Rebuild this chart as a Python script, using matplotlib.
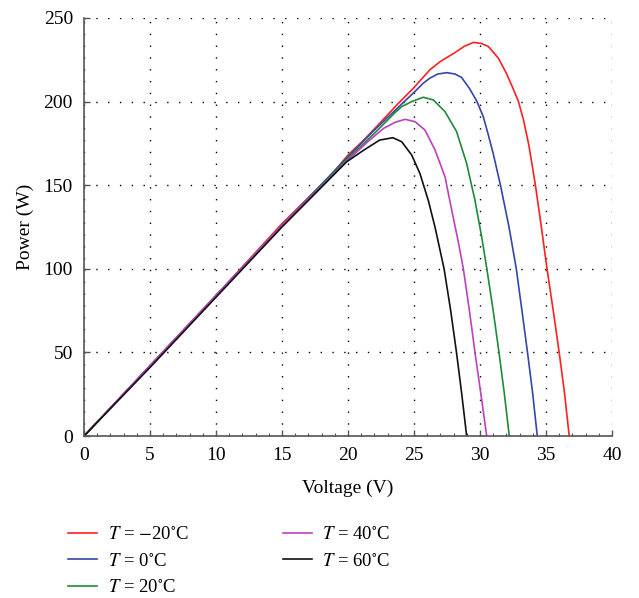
import matplotlib
matplotlib.use("Agg")
import matplotlib.pyplot as plt
from matplotlib.ticker import MultipleLocator

plt.rcParams['font.family'] = ['Liberation Serif', 'DejaVu Serif']
plt.rcParams['mathtext.fontset'] = 'stix'

# P-V curves, one per temperature
v_m20 = [0, 5, 10, 15, 18.6, 20, 21.2, 22.4, 23.7, 24.95, 26.2, 27.0, 28.1, 28.8,
         29.5, 30.1, 30.64, 31.4, 32.0, 32.5, 32.9, 33.3, 33.7, 34.2, 34.65, 35.08,
         35.55, 36.0, 36.4, 36.76]
p_m20 = [0, 42, 84, 127, 155, 168, 177, 187, 198, 208, 219, 224, 229.3, 233,
         235.4, 234.8, 232.9, 225.9, 216.9, 207.9, 200.4, 189, 174, 150, 125, 100,
         75, 50, 26, 0]

v_0 = [0, 5, 10, 15, 20, 22, 24, 25, 25.7, 26.2, 26.8, 27.5, 28.1, 28.6, 29.2,
       29.75, 30.25, 30.6, 31.0, 31.55, 32.2, 32.75, 33.18, 33.6, 34.0, 34.34]
p_0 = [0, 42, 84, 126, 167, 183, 198, 205.5, 211, 214, 216.5, 217.3, 216.5, 214.5, 207.9,
       200.4, 191, 181, 169, 150, 125, 100, 75, 50, 25, 0]

v_20 = [0, 5, 10, 15, 20, 22, 23.56, 24.07, 24.83, 25.7, 26.46, 27.35, 28.23, 28.99,
        29.62, 30.13, 30.5, 31.0, 31.44, 31.85, 32.22]
p_20 = [0, 42, 84, 126, 166, 181, 193.4, 197, 200, 202.6, 201, 194, 182, 163,
        141, 119, 101, 75, 50, 25, 0]

v_40 = [0, 5, 10, 15, 20, 21.5, 22.7, 23.56, 24.32, 25.08, 25.83, 26.6, 27.35, 27.86,
        28.36, 28.74, 29.2, 29.62, 30.07, 30.51]
p_40 = [0, 42, 84, 126, 165, 176, 184, 187.6, 189.4, 188, 183, 171, 155, 135,
        116, 100, 75, 50, 25, 0]

v_60 = [0, 5, 10, 15, 19.9, 21.2, 22.4, 23.4, 24.07, 24.83, 25.45, 26.08, 26.59,
        27.28, 27.78, 28.22, 28.62, 28.99]
p_60 = [0, 41, 83, 125, 164, 171, 177, 178.4, 176, 168, 157, 141, 125,
        100, 75, 50, 25, 0]

series = [
    (v_m20, p_m20, '#ff2020', r'$T$ = $-$20$^{\circ}$C'),
    (v_0, p_0, '#3347a8', r'$T$ = 0$^{\circ}$C'),
    (v_20, p_20, '#1e8a3c', r'$T$ = 20$^{\circ}$C'),
    (v_40, p_40, '#c03fc0', r'$T$ = 40$^{\circ}$C'),
    (v_60, p_60, '#111111', r'$T$ = 60$^{\circ}$C'),
]

fig = plt.figure(figsize=(6.39, 5.98), dpi=100)
ax = fig.add_axes([0.1315, 0.2709, 0.8262, 0.699])

for v, p, c, lab in series:
    ax.plot(v, p, color=c, lw=1.2, label=lab)

ax.set_xlim(0, 40)
ax.set_ylim(0, 250)
ax.xaxis.set_major_locator(MultipleLocator(5))
ax.xaxis.set_minor_locator(MultipleLocator(1))
ax.yaxis.set_major_locator(MultipleLocator(50))

# dotted grid, roughly 12 px between dots
ax.grid(True, which='major', color='#000000', lw=1.0, linestyle=(0, (1, 7.5)))
for s in ['top', 'right']:
    ax.spines[s].set_visible(False)
for s in ['left', 'bottom']:
    ax.spines[s].set_color('#555555')
    ax.spines[s].set_linewidth(1.2)
ax.tick_params(which='major', direction='in', length=4, width=1, color='#555555',
               labelsize=14, pad=8)
ax.tick_params(which='minor', direction='in', length=2.5, width=0.8, color='#555555')

ax.set_xlabel('Voltage (V)', fontsize=14, labelpad=11)
ax.set_ylabel('Power (W)', fontsize=14, labelpad=7)

ax.legend(loc='upper left', bbox_to_anchor=(0.095, 0.133), bbox_transform=fig.transFigure,
          ncol=2, frameon=False, fontsize=13.5, handlelength=1.55, handletextpad=0.55,
          columnspacing=5.0, labelspacing=0.5, borderaxespad=0)

fig.savefig('out.png', dpi=100)
